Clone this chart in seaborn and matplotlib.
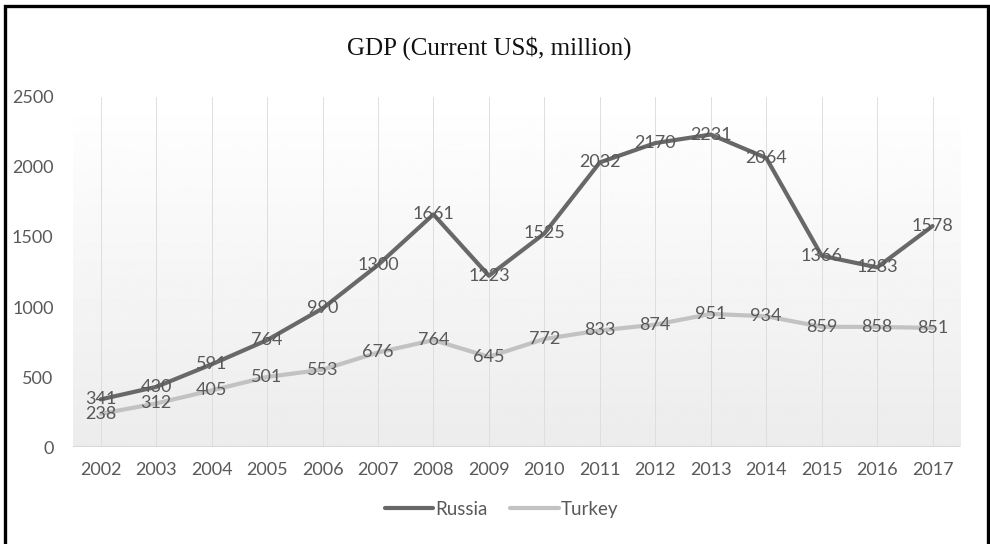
import numpy as np
import pandas as pd
import seaborn as sns
import matplotlib.pyplot as plt
from matplotlib.patches import Rectangle

years = [str(y) for y in range(2002, 2018)]
russia = [341, 430, 591, 764, 990, 1300, 1661, 1223, 1525, 2032, 2170, 2231, 2064, 1366, 1283, 1578]
turkey = [238, 312, 405, 501, 553, 676, 764, 645, 772, 833, 874, 951, 934, 859, 858, 851]
series = ["Russia", "Turkey"]
colors = ["#686868", "#c2c2c2"]
y_ticks = [0, 500, 1000, 1500, 2000, 2500]

df = pd.concat([
    pd.DataFrame({"year": years, "gdp": russia, "country": "Russia"}),
    pd.DataFrame({"year": years, "gdp": turkey, "country": "Turkey"}),
])

sns.set_style("white")
plt.rcParams["font.family"] = ["Lato", "DejaVu Sans"]
txt = "#595959"

fig = plt.figure(figsize=(9.9, 5.44), dpi=100)
ax = fig.add_axes([0.0737, 0.178, 0.8963, 0.644])

# gradient plot area background (white at top -> light grey at bottom)
grad = np.linspace(0.925, 1.0, 256).reshape(-1, 1)
ax.imshow(grad, cmap="gray", vmin=0, vmax=1, aspect="auto",
          extent=(-0.5, 15.5, 0, 2500), origin="lower", zorder=0)

sns.lineplot(data=df, x="year", y="gdp", hue="country", palette=colors,
             linewidth=3, ax=ax, legend=True, zorder=3, sort=False)

for vals in (russia, turkey):
    for i, v in enumerate(vals):
        ax.text(i, v, str(v), ha="center", va="center", fontsize=13,
                color=txt, zorder=4)

ax.set_xlim(-0.5, 15.5)
ax.set_ylim(0, 2500)
ax.set_yticks(y_ticks)
ax.set_xticks(range(len(years)))
ax.set_xticklabels(years)
ax.tick_params(axis="both", length=0, labelsize=13, labelcolor=txt)
ax.tick_params(axis="x", pad=11)
ax.tick_params(axis="y", pad=14)
for x in range(len(years)):
    ax.axvline(x, color="#dedede", lw=0.7, zorder=1)
ax.axhline(0, color="#d9d9d9", lw=1.5, zorder=2)
for s in ax.spines.values():
    s.set_visible(False)
ax.set_xlabel("")
ax.set_ylabel("")

fig.text(0.494, 0.912, "GDP (Current US\\$, million)", ha="center", va="center",
         fontsize=18, family="Liberation Serif", color="#111111")

leg = ax.legend(loc="center", bbox_to_anchor=(0.483, -0.177), ncol=2,
                frameon=False, fontsize=13.5, handlelength=2.6, handletextpad=0.1,
                columnspacing=1.2, labelcolor=txt)
for line in leg.get_lines():
    line.set_linewidth(3)

fig.patches.append(Rectangle((0.005, -0.05), 0.993, 1.039, transform=fig.transFigure,
                             fill=False, edgecolor="black", lw=2.4))

fig.savefig("out.png", dpi=100)
